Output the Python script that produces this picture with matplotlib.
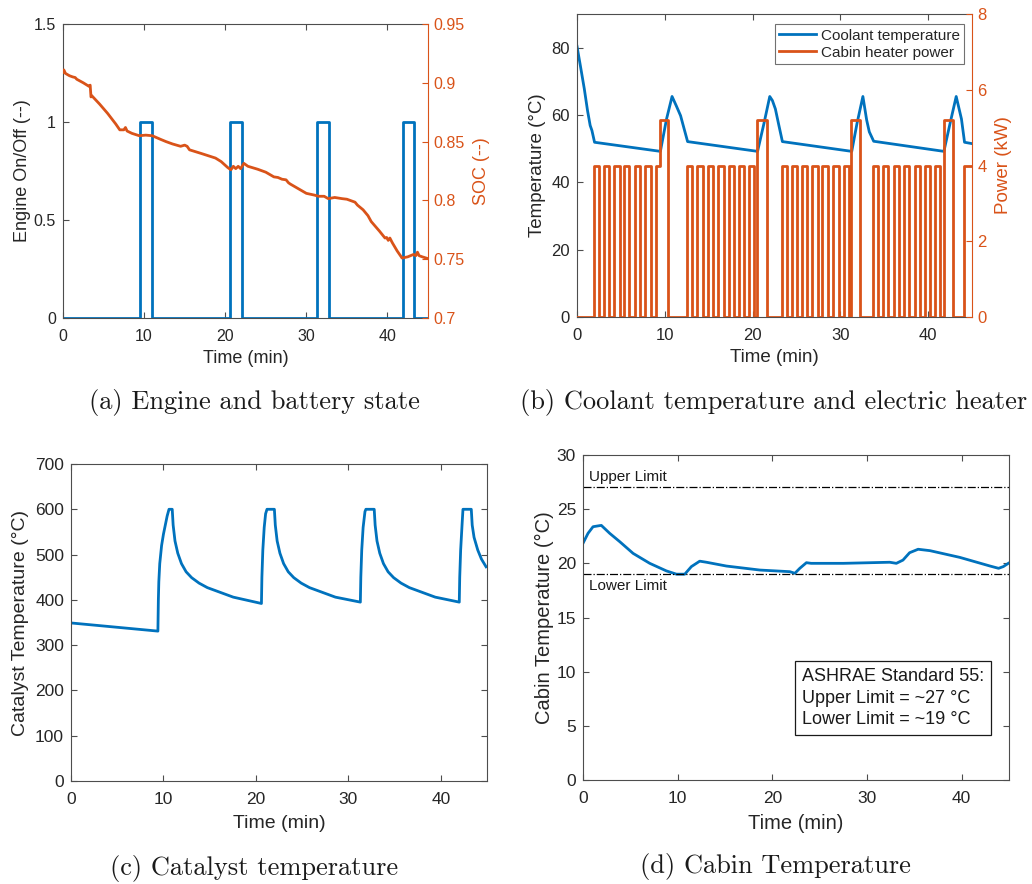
import matplotlib
matplotlib.use("Agg")
import matplotlib.pyplot as plt

plt.rcParams['font.family'] = ['Liberation Sans', 'DejaVu Sans']

BLUE = '#0072BD'
ORANGE = '#D95319'
DARK = '#262626'
SPINE = '#4d4d4d'
LW = 2.0

# ---------------- data ----------------
# (a) engine on/off (step breakpoints) and SOC
engine_t = [0, 9.45, 10.95, 20.65, 22.05, 31.35, 32.75, 41.95, 43.3, 45]
engine_v = [0, 1, 0, 1, 0, 1, 0, 1, 0, 0]

soc_t = [0, 0.1, 0.3, 0.8, 1.2, 1.5, 1.7, 2.5, 3.2, 3.35, 3.45, 3.55, 4.5, 5.5, 6.5,
         7.0, 7.5, 7.7, 7.9, 8.5, 9.4, 10.2, 11.0, 12.0, 12.7, 13.5, 14.5, 15.0, 15.3,
         15.6, 17.0, 18.8, 19.5, 20.3, 20.7, 21.0, 21.3, 21.6, 21.9, 22.3, 22.8, 24.0,
         25.0, 26.0, 26.5, 27.0, 27.5, 27.8, 28.0, 29.0, 30.0, 31.0, 31.5, 32.2, 32.7,
         33.5, 34.4, 35.0, 36.0, 36.3, 37.0, 37.6, 38.0, 39.0, 39.7, 39.9, 40.1, 40.3,
         40.6, 41.2, 41.8, 42.5, 43.2, 43.5, 43.7, 43.9, 44.3, 45.0]
soc_v = [0.909, 0.911, 0.908, 0.906, 0.905, 0.9045, 0.903, 0.900, 0.897, 0.898, 0.888,
         0.889, 0.882, 0.874, 0.865, 0.860, 0.860, 0.862, 0.859, 0.857, 0.855, 0.8555,
         0.855, 0.852, 0.850, 0.848, 0.846, 0.847, 0.846, 0.843, 0.840, 0.836, 0.833,
         0.828, 0.826, 0.829, 0.827, 0.829, 0.827, 0.8315, 0.829, 0.8265, 0.824, 0.820,
         0.8195, 0.818, 0.8175, 0.815, 0.814, 0.810, 0.806, 0.8045, 0.8035, 0.8035,
         0.8015, 0.8025, 0.8015, 0.801, 0.7985, 0.796, 0.792, 0.787, 0.782, 0.774,
         0.768, 0.7685, 0.766, 0.768, 0.764, 0.757, 0.751, 0.752, 0.754, 0.753, 0.756,
         0.753, 0.752, 0.7505]

# (b) coolant temperature and cabin heater power (step breakpoints)
cool_t = [0, 0.38, 0.83, 1.2, 1.5, 1.7, 2.0, 9.5, 10.2, 10.83, 11.3, 11.8, 12.1, 12.6,
          20.57, 21.3, 21.96, 22.26, 22.6, 23.0, 23.4, 31.3, 31.9, 32.57, 33.0, 33.3,
          33.8, 41.8, 42.5, 43.2, 43.8, 44.15, 45.0]
cool_v = [80.4, 74.7, 67.8, 61.3, 56.9, 55.4, 51.9, 49.2, 58.8, 65.5, 62.8, 59.8, 56.9,
          52.1, 49.2, 57.5, 65.5, 64.3, 61.8, 56.9, 52.1, 49.2, 57.5, 65.5, 58.5, 55.0,
          52.2, 49.2, 57.5, 65.5, 58.8, 51.9, 51.5]

heater_t = [0, 1.9, 2.5, 3.1, 3.7, 4.25, 4.85, 5.4, 5.95, 6.6, 7.15, 7.8, 8.4, 9.0, 9.45, 10.4,
            12.55, 13.15, 13.7, 14.3, 14.9, 15.5, 16.1, 16.7, 17.3, 17.85, 18.45, 19.05, 19.6, 20.2, 20.55, 21.6,
            23.4, 23.95, 24.55, 25.1, 25.65, 26.25, 26.8, 27.4, 27.95, 28.6, 29.15, 29.8, 30.4, 31.0, 31.2, 32.2,
            33.7, 34.3, 34.9, 35.45, 36.1, 36.65, 37.25, 37.85, 38.45, 39.05, 39.6, 40.2, 40.75, 41.35, 41.8, 42.85,
            44.1, 45]
heater_p = [0, 4, 0, 4, 0, 4, 0, 4, 0, 4, 0, 4, 0, 4, 5.2, 0,
            4, 0, 4, 0, 4, 0, 4, 0, 4, 0, 4, 0, 4, 0, 5.2, 0,
            4, 0, 4, 0, 4, 0, 4, 0, 4, 0, 4, 0, 4, 0, 5.2, 0,
            4, 0, 4, 0, 4, 0, 4, 0, 4, 0, 4, 0, 4, 0, 5.2, 0,
            4, 4]

# (c) catalyst temperature
cat_t = [0, 9.4, 9.45, 9.5, 9.6, 9.8, 10.0, 10.2, 10.4, 10.6, 10.95,
         11.05, 11.25, 11.55, 11.95, 12.45, 13.05, 13.85, 14.75, 15.95, 17.55, 20.6,
         20.65, 20.75, 20.9, 21.05, 21.2, 22.0,
         22.1, 22.3, 22.6, 23.0, 23.5, 24.1, 24.9, 25.8, 27.0, 28.6, 31.3,
         31.35, 31.45, 31.6, 31.8, 31.9, 32.8,
         32.9, 33.1, 33.4, 33.8, 34.3, 34.9, 35.7, 36.6, 37.8, 39.4, 42.0,
         42.05, 42.15, 42.3, 42.4, 43.3,
         43.4, 43.6, 44.0, 44.4, 44.9]
cat_v = [349, 331, 400, 440, 480, 520, 545, 565, 585, 600, 600,
         565, 530, 503, 480, 462, 449, 437, 427, 418, 406, 392,
         450, 510, 560, 590, 600, 600,
         565, 530, 503, 480, 462, 449, 437, 427, 418, 406, 395,
         450, 510, 560, 595, 600, 600,
         565, 530, 503, 480, 462, 449, 437, 427, 418, 406, 395,
         450, 510, 565, 600, 600,
         565, 538, 510, 490, 473]

# (d) cabin temperature
cab_t = [0, 0.53, 1.06, 1.76, 1.94, 2.82, 3.88, 5.29, 7.05, 8.81, 9.87, 10.75, 11.45,
         12.33, 13.04, 15.15, 18.68, 21.85, 22.38, 22.9, 23.6, 24.1, 27.5, 32.4, 33.1,
         33.8, 34.5, 35.4, 36.65, 39.8, 43.0, 43.9, 44.4, 44.93]
cab_v = [21.85, 22.77, 23.38, 23.48, 23.5, 22.77, 22.0, 20.92, 20.0, 19.3, 19.0, 19.0,
         19.7, 20.2, 20.1, 19.75, 19.38, 19.23, 19.08, 19.54, 20.06, 20.0, 20.0, 20.1,
         20.0, 20.3, 20.98, 21.3, 21.17, 20.55, 19.75, 19.54, 19.7, 20.0]
upper_limit = 27
lower_limit = 19

x_ticks = [0, 10, 20, 30, 40]

captions = ['(a) Engine and battery state',
            '(b) Coolant temperature and electric heater',
            '(c) Catalyst temperature',
            '(d) Cabin Temperature']

# ---------------- figure ----------------
W, H = 1032, 884
fig = plt.figure(figsize=(W / 100, H / 100), dpi=100)


def box(l, r, t, b):
    return [l / W, (H - b) / H, (r - l) / W, (b - t) / H]


def style(ax, tick_fs, right_color=None):
    for s in ax.spines.values():
        s.set_color(SPINE)
        s.set_linewidth(0.8)
    ax.tick_params(direction='in', length=4, width=0.8, colors=SPINE,
                   labelcolor=DARK, labelsize=tick_fs, top=True,
                   right=right_color is None, pad=5)
    ax.tick_params(axis='x', pad=8)
    ax.set_xlim(0, 45)
    ax.set_xticks(x_ticks)


def style_twin(tw, tick_fs):
    for s in tw.spines.values():
        s.set_visible(False)
    tw.spines['right'].set_visible(True)
    tw.spines['right'].set_color(ORANGE)
    tw.spines['right'].set_linewidth(0.8)
    tw.tick_params(axis='y', direction='in', length=4, width=0.8, colors=ORANGE,
                   labelcolor=ORANGE, labelsize=tick_fs, pad=4)


# (a)
ax1 = fig.add_axes(box(63, 428, 24, 318))
style(ax1, 11.5, right_color=ORANGE)
ax1.plot(engine_t, engine_v, color=BLUE, lw=LW, drawstyle='steps-post')
ax1.set_ylim(0, 1.5)
ax1.set_yticks([0, 0.5, 1, 1.5])
ax1.set_yticklabels(['0', '0.5', '1', '1.5'])
ax1.set_xlabel('Time (min)', fontsize=13, color=DARK, labelpad=4)
ax1.set_ylabel('Engine On/Off (--)', fontsize=13, color=DARK, labelpad=2)
tw1 = ax1.twinx()
style_twin(tw1, 11.5)
tw1.plot(soc_t, soc_v, color=ORANGE, lw=LW)
tw1.set_ylim(0.7, 0.95)
tw1.set_yticks([0.7, 0.75, 0.8, 0.85, 0.9, 0.95])
tw1.set_yticklabels(['0.7', '0.75', '0.8', '0.85', '0.9', '0.95'])
tw1.set_ylabel('SOC (--)', fontsize=13, color=ORANGE, labelpad=6)
ax1.spines['right'].set_visible(False)

# (b)
ax2 = fig.add_axes(box(577, 972, 14, 317))
style(ax2, 12, right_color=ORANGE)
l1, = ax2.plot(cool_t, cool_v, color=BLUE, lw=LW)
ax2.set_ylim(0, 90)
ax2.set_yticks([0, 20, 40, 60, 80])
ax2.set_xlabel('Time (min)', fontsize=13.5, color=DARK, labelpad=4)
ax2.set_ylabel('Temperature (°C)', fontsize=13.5, color=DARK, labelpad=4)
tw2 = ax2.twinx()
style_twin(tw2, 12)
l2, = tw2.plot(heater_t, heater_p, color=ORANGE, lw=LW, drawstyle='steps-post')
tw2.set_ylim(0, 8)
tw2.set_yticks([0, 2, 4, 6, 8])
tw2.set_ylabel('Power (kW)', fontsize=13.5, color=ORANGE, labelpad=6)
ax2.spines['right'].set_visible(False)
leg = tw2.legend([l1, l2], ['Coolant temperature', 'Cabin heater power'],
                 loc='upper right', bbox_to_anchor=(0.98, 0.967), borderaxespad=0,
                 fontsize=11, frameon=True, fancybox=False, handlelength=2.4,
                 handletextpad=0.3, labelspacing=0.2, borderpad=0.3)
leg.get_frame().set_edgecolor(SPINE)
leg.get_frame().set_linewidth(0.8)
for t in leg.get_texts():
    t.set_color(DARK)

# (c)
ax3 = fig.add_axes(box(71, 487, 464, 781))
style(ax3, 12.5)
ax3.plot(cat_t, cat_v, color=BLUE, lw=LW)
ax3.set_ylim(0, 700)
ax3.set_yticks(range(0, 701, 100))
ax3.set_xlabel('Time (min)', fontsize=14, color=DARK, labelpad=6)
ax3.set_ylabel('Catalyst Temperature (°C)', fontsize=14, color=DARK, labelpad=4)

# (d)
ax4 = fig.add_axes(box(583, 1009, 455, 780))
style(ax4, 12.5)
ax4.plot(cab_t, cab_v, color=BLUE, lw=LW)
ax4.axhline(upper_limit, color='black', lw=0.9, ls='-.')
ax4.axhline(lower_limit, color='black', lw=0.9, ls='-.')
ax4.set_ylim(0, 30)
ax4.set_yticks(range(0, 31, 5))
ax4.set_xlabel('Time (min)', fontsize=14.5, color=DARK, labelpad=6)
ax4.set_ylabel('Cabin Temperature (°C)', fontsize=14.5, color=DARK, labelpad=2)
ax4.text(0.6, upper_limit + 0.3, 'Upper Limit', fontsize=11, color='#1a1a1a',
         ha='left', va='bottom')
ax4.text(0.6, lower_limit - 0.4, 'Lower Limit', fontsize=11, color='#1a1a1a',
         ha='left', va='top')
ax4.text(0.514, 0.252,
         'ASHRAE Standard 55:\nUpper Limit = ~27 °C\nLower Limit = ~19 °C',
         transform=ax4.transAxes, fontsize=13, color='#1a1a1a', ha='left',
         va='center', linespacing=1.35,
         bbox=dict(boxstyle='square,pad=0.4', facecolor='white',
                   edgecolor='#1a1a1a', linewidth=0.9))

# captions
cap_pos = [(254, 402), (774, 402), (254, 868), (775, 867)]
for (cx, cy), cap in zip(cap_pos, captions):
    fig.text(cx / W, (H - cy) / H, cap, family='cmr10', fontsize=19,
             ha='center', va='center', color='#1a1a1a')

fig.savefig('out.png', dpi=100)
